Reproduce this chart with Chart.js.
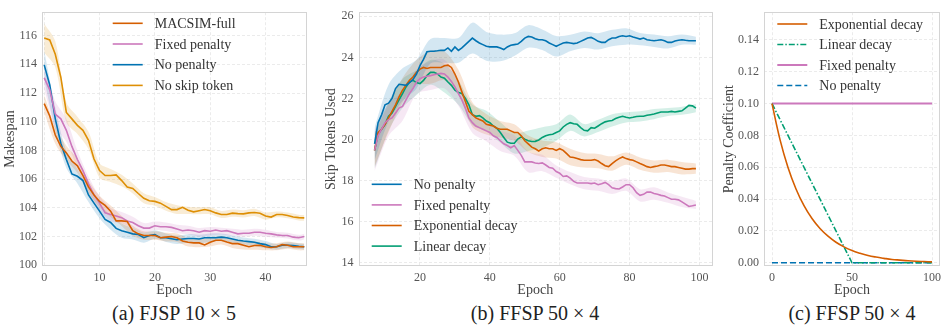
<!DOCTYPE html>
<html>
<head>
<meta charset="utf-8">
<script src="https://cdn.jsdelivr.net/npm/chart.js@4/dist/chart.umd.min.js"></script>
<style>
  body { margin: 0; background: #fff; }
  #wrap { position: relative; width: 947px; height: 330px; overflow: hidden; }
  canvas { position: absolute; top: 0; }
  .cap { position: absolute; top: 300px; height: 26px; line-height: 26px; text-align: center;
         font-family: "Liberation Serif", "DejaVu Serif", serif; font-size: 20px; color: #222; }
</style>
</head>
<body>
<div id="wrap">
  <canvas id="chartA" width="310" height="300" style="left:0px"></canvas>
  <canvas id="chartB" width="405" height="300" style="left:310px"></canvas>
  <canvas id="chartC" width="232" height="300" style="left:715px"></canvas>
  <div class="cap" style="left:74px;width:200px">(a) FJSP 10 × 5</div>
  <div class="cap" style="left:435px;width:200px">(b) FFSP 50 × 4</div>
  <div class="cap" style="left:752px;width:200px">(c) FFSP 50 × 4</div>
</div>
<script>
// colours (seaborn colorblind)
const BLUE = "#0173b2", ORANGE = "#de8f05", GREEN = "#029e73", RED = "#d55e00", PINK = "#cc78bc";
const FONT = "'Liberation Serif', 'DejaVu Serif', serif";

// ---- (a) FJSP 10x5 : makespan per epoch, epochs 0..47
const macsimA = [111.26,110.4,109.07,108.28,107.83,107.26,106.93,106.25,105.46,104.9,
  104.45,104.17,103.77,103.09,103.09,103.05,102.41,102.19,102.07,102.07,
  102.07,101.92,101.96,102.0,101.92,101.69,101.6,101.56,101.56,101.42,
  101.6,101.74,101.74,101.62,101.51,101.51,101.4,101.29,101.38,101.4,
  101.29,101.24,101.29,101.44,101.4,101.29,101.29,101.29];
const fixedA = [113.06,112.22,110.53,110.2,109.4,108.28,107.37,106.59,105.68,104.9,
  104.33,103.65,103.54,103.43,103.32,103.09,102.98,102.75,102.59,102.59,
  102.75,102.68,102.68,102.64,102.53,102.41,102.46,102.41,102.3,102.41,
  102.37,102.46,102.37,102.41,102.3,102.19,102.23,102.23,102.3,102.3,
  102.23,102.19,102.12,102.07,102.07,101.96,101.92,102.0];
const noPenaltyA = [113.96,112.56,110.2,108.5,107.37,106.36,106.2,105.9,104.9,104.33,
  103.77,103.2,102.98,102.57,102.41,102.3,102.19,102.14,101.92,102.07,
  102.14,101.92,101.92,101.85,101.78,101.83,101.87,101.87,101.83,101.92,
  101.92,101.92,101.96,101.92,101.83,101.74,101.69,101.65,101.6,101.51,
  101.44,101.29,101.29,101.4,101.4,101.38,101.33,101.29];
const noSkipA = [115.83,115.7,114.7,113.1,110.65,110.2,109.75,109.4,108.7,107.4,
  106.6,106.25,106.25,106.3,105.9,105.45,105.35,105.0,104.67,104.5,
  104.45,104.33,104.1,103.88,103.88,104.04,103.83,103.72,103.8,103.88,
  103.8,103.65,103.54,103.54,103.63,103.6,103.58,103.65,103.68,103.63,
  103.43,103.36,103.54,103.54,103.47,103.36,103.32,103.3];
// band half-widths, sampled at these epochs
const bandEpochsA = [0,2,4,6,8,10,12,14,16,18,20,22,24,26,28,30,32,34,36,38,40,42,44,46,47];
const macsimBandA = [0.6,0.6,0.5,0.5,0.45,0.4,0.4,0.35,0.35,0.3,0.3,0.3,0.3,0.3,0.3,0.3,0.3,0.3,0.3,0.3,0.25,0.25,0.25,0.25,0.25];
const fixedBandA = [0.8,0.9,0.8,0.6,0.5,0.5,0.45,0.4,0.4,0.35,0.3,0.3,0.3,0.3,0.3,0.3,0.25,0.25,0.25,0.25,0.25,0.2,0.2,0.2,0.2];
const noPenaltyBandA = [1.0,0.8,0.6,0.5,0.5,0.5,0.5,0.5,0.4,0.35,0.3,0.3,0.3,0.3,0.3,0.3,0.25,0.25,0.25,0.25,0.25,0.2,0.2,0.2,0.2];
const noSkipBandA = [1.0,0.9,0.7,0.6,0.6,0.5,0.45,0.4,0.35,0.35,0.3,0.3,0.3,0.25,0.25,0.25,0.25,0.25,0.25,0.25,0.25,0.2,0.2,0.2,0.2];
const xTicksA = [0, 10, 20, 30, 40];
const yTicksA = [100, 102, 104, 106, 108, 110, 112, 114, 116];

// ---- (b) FFSP 50x4 : skip tokens used, epochs 7..99
const firstEpochB = 7;
const noPenaltyB = [19.79,20.82,21.2,21.69,21.77,22.0,22.48,22.69,22.67,22.64,
  22.77,22.92,23.19,23.6,23.9,24.27,24.3,24.3,24.32,24.35,
  24.34,24.46,24.3,24.51,24.34,24.46,24.62,24.78,24.94,24.81,
  24.7,24.62,24.54,24.51,24.52,24.51,24.46,24.38,24.51,24.59,
  24.62,24.65,24.78,24.94,25.02,24.99,24.91,24.86,24.86,24.81,
  24.7,24.62,24.54,24.62,24.7,24.73,24.7,24.67,24.7,24.78,
  24.86,24.94,24.97,24.89,24.78,24.73,24.73,24.86,24.94,24.94,
  25.02,25.05,25.02,25.05,24.99,24.94,24.89,24.94,24.86,24.83,
  24.81,24.83,24.86,24.81,24.73,24.73,24.8,24.83,24.86,24.83,
  24.81,24.81,24.81];
const fixedB = [19.47,20.18,20.5,20.82,20.97,21.05,21.29,21.53,21.61,21.93,
  22.24,22.48,22.8,22.96,23.04,23.08,23.11,23.15,23.19,23.22,
  23.19,23.04,22.83,22.56,22.24,21.93,21.53,21.05,20.82,20.66,
  20.58,20.5,20.42,20.34,20.18,20.1,19.94,19.79,19.71,19.6,
  19.71,19.47,19.23,18.91,18.91,18.91,18.86,18.83,18.86,18.76,
  18.64,18.6,18.44,18.36,18.2,18.23,18.12,17.96,17.88,17.88,
  17.88,17.88,17.85,17.88,17.8,17.85,17.91,17.8,17.65,17.61,
  17.59,17.69,17.8,17.8,17.65,17.41,17.28,17.33,17.44,17.44,
  17.37,17.33,17.28,17.25,17.17,17.09,17.09,17.06,16.96,16.85,
  16.74,16.77,16.81];
const expB = [19.47,20.34,20.5,20.74,21.05,21.37,21.69,22.08,22.4,22.64,
  22.88,23.04,23.27,23.43,23.51,23.46,23.51,23.51,23.51,23.51,
  23.59,23.62,23.51,23.19,22.8,22.32,21.85,21.37,21.21,21.05,
  20.97,20.9,20.74,20.7,20.66,20.55,20.5,20.5,20.5,20.42,
  20.34,20.34,20.18,19.94,19.79,19.63,19.55,19.44,19.55,19.6,
  19.55,19.55,19.47,19.55,19.47,19.31,19.15,19.12,19.07,19.02,
  18.99,18.99,18.99,19.02,18.95,18.83,18.72,18.68,18.83,18.96,
  19.07,19.15,19.07,19.02,18.99,18.91,18.83,18.76,18.68,18.64,
  18.68,18.71,18.76,18.76,18.72,18.68,18.68,18.64,18.6,18.56,
  18.56,18.58,18.58];
const linearB = [19.47,20.26,20.5,20.74,21.13,21.29,21.61,21.93,22.24,22.56,
  22.8,22.88,22.77,22.72,22.88,23.11,23.27,23.27,23.19,23.04,
  22.99,22.8,22.64,22.4,22.29,22.24,22.0,21.69,21.21,21.13,
  21.16,21.05,20.9,20.82,20.66,20.55,20.34,20.1,19.87,19.82,
  19.82,20.02,20.13,20.02,19.94,19.9,19.91,19.98,20.1,20.18,
  20.23,20.26,20.34,20.42,20.61,20.74,20.82,20.77,20.74,20.58,
  20.45,20.42,20.58,20.55,20.66,20.77,20.86,20.9,20.93,21.02,
  21.08,21.13,21.08,21.05,21.08,21.12,21.13,21.13,21.18,21.21,
  21.24,21.29,21.34,21.34,21.34,21.37,21.34,21.37,21.4,21.53,
  21.66,21.64,21.53];
const bandEpochsB = [7,11,15,19,23,27,31,35,39,43,47,51,55,59,63,67,71,75,79,83,87,91,95,99];
const noPenaltyBandB = [0.8,0.9,0.8,0.7,0.6,0.6,0.6,0.75,0.7,0.65,0.55,0.55,0.5,0.5,0.4,0.4,0.4,0.4,0.4,0.3,0.3,0.3,0.25,0.2];
const fixedBandB = [1.0,0.8,0.7,0.6,0.7,0.7,0.6,0.5,0.5,0.5,0.5,0.5,0.4,0.3,0.3,0.3,0.3,0.3,0.3,0.3,0.3,0.25,0.25,0.2];
const expBandB = [0.8,0.7,0.6,0.6,0.8,0.7,0.6,0.6,0.5,0.4,0.4,0.4,0.4,0.4,0.4,0.35,0.35,0.35,0.3,0.3,0.3,0.3,0.3,0.25];
const linearBandB = [0.9,0.7,0.7,0.6,0.6,0.7,0.6,0.5,0.5,0.5,0.5,0.5,0.5,0.4,0.4,0.3,0.3,0.3,0.25,0.25,0.25,0.2,0.2,0.2];
const xTicksB = [20, 40, 60, 80, 100];
const yTicksB = [14, 16, 18, 20, 22, 24, 26];

// ---- (c) penalty schedules
const expEpochsC = [0,5,10,15,20,25,30,35,40,45,50,55,60,65,70,75,80,85,90,95,100];
const expC = [0.1,0.0774,0.0599,0.0464,0.0359,0.0278,0.0215,0.0167,0.0129,0.0100,0.0077,0.0060,0.0046,0.0036,0.0028,0.0021,0.0017,0.0013,0.0010,0.0008,0.0006];
const linearEpochsC = [0, 50, 100];
const linearC = [0.1, 0, 0];
const flatEpochsC = [0, 100];
const fixedC = [0.1, 0.1];
const noPenaltyC = [0, 0];
const xTicksC = [0, 50, 100];
const yTicksC = [0, 0.02, 0.04, 0.06, 0.08, 0.10, 0.12, 0.14];

Chart.defaults.font.family = FONT;
Chart.defaults.animation = false;

const framePlugin = {
  id: "frame",
  beforeDatasetsDraw(chart) {
    const { ctx, chartArea: a } = chart;
    ctx.save();
    ctx.strokeStyle = "#d4d4d4";
    ctx.lineWidth = 1;
    ctx.strokeRect(Math.round(a.left) + 0.5, Math.round(a.top) + 0.5,
      Math.round(a.right - a.left) - 1, Math.round(a.bottom - a.top) - 1);
    ctx.restore();
  },
};

// legend drawn inside the plot area, like the matplotlib one
const innerLegend = {
  id: "innerLegend",
  afterDatasetsDraw(chart, args, opts) {
    const { ctx } = chart;
    const items = chart.data.datasets.filter((d) => !d.band);
    ctx.save();
    ctx.font = "14px " + FONT;
    ctx.textBaseline = "middle";
    items.forEach((d, i) => {
      const y = opts.y + i * opts.row;
      ctx.strokeStyle = d.borderColor;
      ctx.lineWidth = d.borderWidth;
      ctx.setLineDash(d.borderDash || []);
      ctx.beginPath();
      ctx.moveTo(opts.x, y);
      ctx.lineTo(opts.x + 30, y);
      ctx.stroke();
      ctx.setLineDash([]);
      ctx.fillStyle = "#333";
      ctx.fillText(d.label, opts.x + 42, y + 1);
    });
    ctx.restore();
  },
};

function hexA(hex, a) {
  const n = parseInt(hex.slice(1), 16);
  return `rgba(${n >> 16}, ${(n >> 8) & 255}, ${n & 255}, ${a})`;
}

function line(label, xs, ys, color, extra) {
  return Object.assign({
    label: label,
    data: ys.map((v, i) => ({ x: xs[i], y: v })),
    borderColor: color,
    borderWidth: 1.6,
    pointRadius: 0,
    tension: 0,
    fill: false,
  }, extra || {});
}

// upper + lower band datasets taken from the mean at the sampled epochs
function band(xs, ys, bandEpochs, halfWidth, color) {
  const pick = (sign) => bandEpochs.map((e, k) => ({
    x: e, y: ys[xs.indexOf(e)] + sign * halfWidth[k],
  }));
  const base = { band: true, borderWidth: 0, pointRadius: 0, tension: 0.3 };
  return [
    Object.assign({ data: pick(1), fill: "+1", backgroundColor: hexA(color, 0.17) }, base),
    Object.assign({ data: pick(-1), fill: false }, base),
  ];
}

function axis(min, max, ticks, title, fixedSize, titlePad, horizontal, fmt) {
  return {
    type: "linear",
    min: min,
    max: max,
    afterBuildTicks: (s) => { s.ticks = ticks.map((v) => ({ value: v })); },
    afterFit: (s) => { if (horizontal) s.height = fixedSize; else s.width = fixedSize; },
    grid: { color: "#e6e6e6", lineWidth: 0.8, drawTicks: false },
    border: { display: false, dash: [3, 2] },
    ticks: {
      color: "#555",
      font: { size: 12, family: FONT },
      padding: 5,
      maxRotation: 0,
      callback: fmt || ((v) => v),
    },
    title: {
      display: true,
      text: title,
      color: "#444",
      font: { size: 14, family: FONT },
      padding: titlePad,
    },
  };
}

function makeChart(id, datasets, x, y, legend, padRight) {
  return new Chart(document.getElementById(id), {
    type: "line",
    data: { datasets: datasets },
    options: {
      responsive: false,
      layout: { padding: { top: 5, right: padRight, left: 0, bottom: 0 } },
      plugins: {
        legend: { display: false },
        tooltip: { enabled: false },
        filler: { drawTime: "beforeDatasetsDraw" },
        innerLegend: legend,
      },
      scales: { x: x, y: y },
    },
    plugins: [framePlugin, innerLegend],
  });
}

function drawAll() {
  // (a)
  const epochsA = macsimA.map((_, i) => i);
  makeChart("chartA", [
    line("MACSIM-full", epochsA, macsimA, RED),
    line("Fixed penalty", epochsA, fixedA, PINK),
    line("No penalty", epochsA, noPenaltyA, BLUE),
    line("No skip token", epochsA, noSkipA, ORANGE),
    ...band(epochsA, macsimA, bandEpochsA, macsimBandA, RED),
    ...band(epochsA, fixedA, bandEpochsA, fixedBandA, PINK),
    ...band(epochsA, noPenaltyA, bandEpochsA, noPenaltyBandA, BLUE),
    ...band(epochsA, noSkipA, bandEpochsA, noSkipBandA, ORANGE),
  ],
    axis(-0.4, 47.4, xTicksA, "Epoch", 34, { top: 0, bottom: 1.6 }, true),
    axis(99.95, 117.63, yTicksA, "Makespan", 42, { top: 1.6, bottom: 0 }, false),
    { x: 112.7, y: 23.3, row: 20.7 }, 3.5);

  // (b)
  const epochsB = noPenaltyB.map((_, i) => firstEpochB + i);
  makeChart("chartB", [
    line("No penalty", epochsB, noPenaltyB, BLUE),
    line("Fixed penalty", epochsB, fixedB, PINK),
    line("Exponential decay", epochsB, expB, RED),
    line("Linear decay", epochsB, linearB, GREEN),
    ...band(epochsB, noPenaltyB, bandEpochsB, noPenaltyBandB, BLUE),
    ...band(epochsB, fixedB, bandEpochsB, fixedBandB, PINK),
    ...band(epochsB, expB, bandEpochsB, expBandB, RED),
    ...band(epochsB, linearB, bandEpochsB, linearBandB, GREEN),
  ],
    axis(2.4, 103.6, xTicksB, "Epoch", 34, { top: 0, bottom: 1.6 }, true),
    axis(13.84, 26.2, yTicksB, "Skip Tokens Used", 48.5, { top: 13.3, bottom: 0 }, false),
    { x: 61.7, y: 184.3, row: 20.6 }, 3);

  // (c)
  makeChart("chartC", [
    line("Exponential decay", expEpochsC, expC, RED, { tension: 0.4 }),
    line("Linear decay", linearEpochsC, linearC, GREEN, { borderDash: [6, 2, 1.5, 2] }),
    line("Fixed penalty", flatEpochsC, fixedC, PINK, { borderWidth: 2 }),
    line("No penalty", flatEpochsC, noPenaltyC, BLUE, { borderDash: [6, 3] }),
  ],
    axis(-5, 105, xTicksC, "Epoch", 34, { top: 0, bottom: 1.6 }, true),
    axis(-0.002, 0.1574, yTicksC, "Penalty Coefficient", 49, { top: 5.9, bottom: 0 }, false,
      (v) => v.toFixed(2)),
    { x: 62.3, y: 24, row: 20.5 }, 7);
}

Promise.all([
  document.fonts.load("12px 'Liberation Serif'"),
  document.fonts.load("14px 'Liberation Serif'"),
]).then(drawAll, drawAll);
</script>
</body>
</html>
